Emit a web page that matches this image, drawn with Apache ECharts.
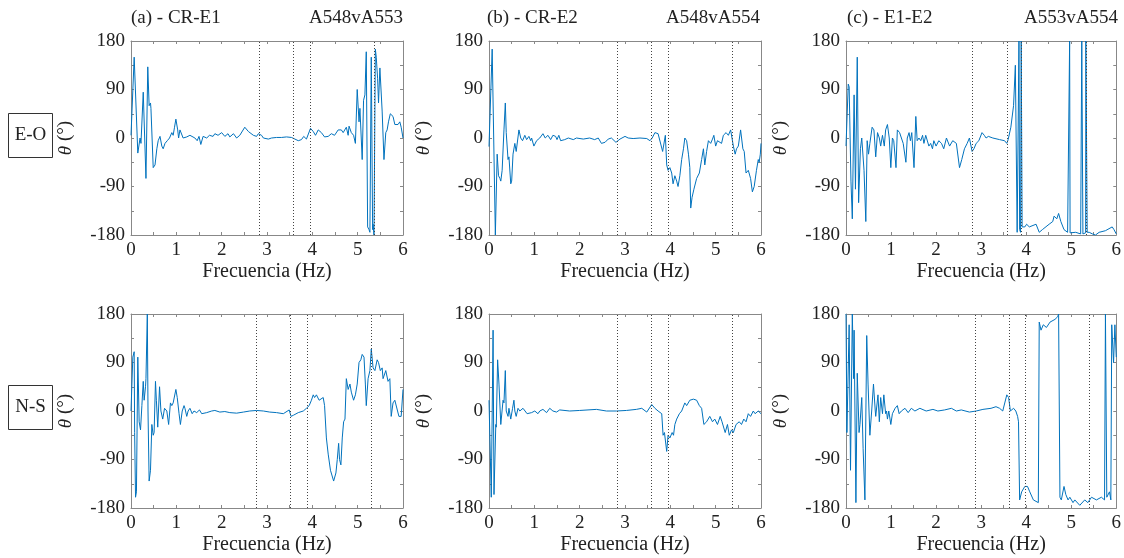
<!DOCTYPE html>
<html>
<head>
<meta charset="utf-8">
<script src="https://cdn.jsdelivr.net/npm/echarts@6/dist/echarts.min.js"></script>
<style>
html,body{margin:0;padding:0;background:#fff;}
#c{width:1124px;height:558px;}
</style>
</head>
<body>
<div id="c"></div>
<script>
// ---------- DATA ----------
const xTicks = [0, 1, 2, 3, 4, 5, 6];
const yTicks = [-180, -90, 0, 90, 180];
const titlesLeft = ['(a) - CR-E1', '(b) - CR-E2', '(c) - E1-E2'];
const titlesRight = ['A548vA553', 'A548vA554', 'A553vA554'];
const rowLabels = ['E-O', 'N-S'];

const eoA = [[0,5],[0.07,150],[0.10,150],[0.15,-28],[0.18,-25],[0.20,0],[0.22,-10],[0.27,85],[0.33,-75],[0.37,132],[0.40,60],[0.43,65],[0.44,55],[0.49,-55],[0.53,-50],[0.57,-20],[0.60,-5],[0.64,3],[0.68,-15],[0.71,-20],[0.75,-10],[0.80,-5],[0.85,0],[0.90,10],[0.93,5],[0.96,20],[0.99,35],[1.03,15],[1.05,0],[1.08,15],[1.11,15],[1.15,0],[1.23,2],[1.30,5],[1.41,0],[1.46,-5],[1.50,3],[1.54,-12],[1.59,3],[1.67,0],[1.73,5],[1.81,3],[1.85,8],[1.92,5],[2.00,10],[2.07,3],[2.14,8],[2.18,2],[2.26,8],[2.33,0],[2.40,5],[2.51,20],[2.59,12],[2.70,5],[2.77,3],[2.81,8],[2.88,5],[2.92,0],[3.03,-2],[3.10,0],[3.21,1],[3.32,1],[3.43,2],[3.54,1],[3.69,-5],[3.76,-3],[3.81,3],[3.87,-2],[3.91,0],[3.96,18],[4.02,12],[4.07,5],[4.13,15],[4.20,10],[4.27,2],[4.35,3],[4.42,8],[4.49,5],[4.57,15],[4.64,15],[4.68,10],[4.75,20],[4.79,5],[4.81,22],[4.86,10],[4.91,5],[4.95,-10],[4.99,90],[5.03,30],[5.05,55],[5.10,-40],[5.13,70],[5.16,80],[5.19,160],[5.22,-165],[5.25,-170],[5.27,-175],[5.30,150],[5.33,-170],[5.34,-160],[5.36,-180],[5.39,165],[5.41,150],[5.44,110],[5.46,65],[5.49,130],[5.54,50],[5.58,-40],[5.62,10],[5.65,15],[5.68,30],[5.72,45],[5.78,40],[5.82,25],[5.89,25],[5.93,30],[5.96,20],[6.0,0]];

const eoB = [[0,-16],[0.07,165],[0.14,-180],[0.18,-30],[0.21,-70],[0.24,-75],[0.26,-80],[0.29,-60],[0.33,15],[0.36,65],[0.38,10],[0.42,-40],[0.44,-35],[0.48,-85],[0.50,-80],[0.53,-30],[0.57,-10],[0.60,-25],[0.66,15],[0.70,0],[0.74,-5],[0.79,5],[0.83,-3],[0.88,3],[0.92,-5],[0.94,0],[0.99,-15],[1.05,-5],[1.12,0],[1.19,8],[1.24,0],[1.30,5],[1.36,-3],[1.41,5],[1.47,3],[1.50,-3],[1.54,5],[1.58,-5],[1.67,-3],[1.75,0],[1.86,-3],[1.93,0],[2.08,-2],[2.22,0],[2.33,-3],[2.41,0],[2.48,-10],[2.56,-8],[2.63,-2],[2.70,0],[2.80,-8],[2.89,-2],[3.00,3],[3.07,0],[3.18,-1],[3.33,0],[3.48,-1],[3.55,-5],[3.60,0],[3.66,10],[3.73,8],[3.77,5],[3.83,-25],[3.89,5],[3.92,-50],[3.95,-60],[3.99,-55],[4.03,-65],[4.06,-85],[4.10,-70],[4.14,-80],[4.17,-90],[4.21,-70],[4.25,-40],[4.29,-20],[4.32,0],[4.36,-5],[4.40,-30],[4.43,-55],[4.45,-130],[4.48,-110],[4.52,-95],[4.58,-75],[4.64,-65],[4.69,-40],[4.73,-20],[4.76,-50],[4.80,-25],[4.84,-5],[4.89,-10],[4.93,-2],[4.96,5],[5.00,-15],[5.04,-5],[5.08,-2],[5.13,-10],[5.17,5],[5.23,10],[5.28,5],[5.33,15],[5.39,-15],[5.43,-30],[5.46,-20],[5.50,-15],[5.55,15],[5.60,-20],[5.63,-25],[5.67,-65],[5.72,-60],[5.77,-75],[5.81,-100],[5.85,-90],[5.90,-60],[5.94,-40],[5.96,-45],[5.985,-30],[6.0,-10]];

const eoC = [[0,-15],[0.05,100],[0.07,95],[0.11,-80],[0.14,-150],[0.18,80],[0.21,-95],[0.25,150],[0.28,-120],[0.32,-20],[0.35,0],[0.40,-60],[0.44,-155],[0.47,-5],[0.50,-30],[0.53,-10],[0.58,20],[0.62,15],[0.66,-35],[0.70,10],[0.74,0],[0.77,-15],[0.81,5],[0.85,-15],[0.88,15],[0.92,25],[0.96,0],[0.995,-55],[1.03,0],[1.06,-5],[1.11,-55],[1.14,15],[1.19,10],[1.23,0],[1.27,-10],[1.33,-45],[1.36,0],[1.40,10],[1.43,-5],[1.46,10],[1.51,-55],[1.55,40],[1.58,-5],[1.62,0],[1.66,-5],[1.70,5],[1.73,-10],[1.77,5],[1.84,-15],[1.88,-10],[1.92,-20],[1.95,-5],[2.00,-15],[2.06,-5],[2.12,-10],[2.17,-20],[2.23,0],[2.30,-15],[2.37,-5],[2.45,-10],[2.52,-55],[2.57,-40],[2.63,-20],[2.69,-10],[2.74,0],[2.80,-25],[2.84,-20],[2.89,-10],[2.95,-5],[3.02,10],[3.07,5],[3.11,0],[3.16,3],[3.26,0],[3.41,-3],[3.52,-5],[3.57,-10],[3.60,-3],[3.66,20],[3.72,60],[3.76,135],[3.80,-175],[3.84,180],[3.855,-170],[3.875,-175],[3.89,180],[3.91,-165],[3.97,-165],[4.01,-160],[4.07,-165],[4.22,-160],[4.29,-175],[4.36,-170],[4.51,-160],[4.59,-155],[4.62,-145],[4.68,-150],[4.72,-140],[4.77,-155],[4.84,-170],[4.92,-175],[4.955,-175],[4.965,180],[4.975,-176],[5.10,-175],[5.21,-178],[5.23,-179],[5.235,180],[5.255,180],[5.26,-178],[5.285,-178],[5.32,-176],[5.325,180],[5.35,180],[5.355,-175],[5.40,-175],[5.47,-178],[5.54,-180],[5.62,-175],[5.76,-172],[5.91,-165],[5.95,-170],[6.0,-178]];

const nsA = [[0,0],[0.04,100],[0.07,110],[0.08,-40],[0.10,-160],[0.12,-150],[0.15,100],[0.18,-20],[0.21,-35],[0.24,10],[0.27,55],[0.29,20],[0.32,45],[0.33,60],[0.36,180],[0.375,0],[0.40,-130],[0.43,-110],[0.46,-25],[0.49,-45],[0.51,-40],[0.54,55],[0.56,20],[0.59,-30],[0.63,45],[0.66,0],[0.70,-15],[0.74,5],[0.79,0],[0.83,-25],[0.87,15],[0.90,10],[0.93,15],[0.99,40],[1.02,25],[1.06,-5],[1.09,-25],[1.13,0],[1.17,10],[1.19,5],[1.23,-10],[1.26,0],[1.30,5],[1.35,-5],[1.39,0],[1.45,-3],[1.51,2],[1.56,-5],[1.67,-3],[1.78,0],[1.85,1],[1.96,-2],[2.07,-1],[2.18,-3],[2.33,-4],[2.48,-2],[2.62,0],[2.77,1],[2.92,0],[3.06,-2],[3.21,-3],[3.36,-5],[3.49,2],[3.53,-10],[3.58,-8],[3.69,-3],[3.80,0],[3.87,5],[3.93,10],[3.98,20],[4.02,30],[4.05,25],[4.09,30],[4.15,20],[4.24,25],[4.27,10],[4.31,-50],[4.35,-80],[4.40,-110],[4.47,-130],[4.52,-115],[4.55,-90],[4.58,-60],[4.60,-90],[4.63,-100],[4.66,-50],[4.69,-20],[4.72,-15],[4.75,60],[4.79,40],[4.83,50],[4.86,35],[4.91,20],[4.95,30],[4.99,50],[5.03,90],[5.07,95],[5.10,105],[5.14,100],[5.17,50],[5.19,10],[5.23,60],[5.27,75],[5.30,115],[5.34,80],[5.38,75],[5.43,95],[5.46,90],[5.50,75],[5.54,80],[5.56,60],[5.62,75],[5.67,55],[5.71,60],[5.74,-10],[5.78,15],[5.82,20],[5.85,20],[5.91,-10],[5.96,-10],[6.0,40]];

const nsB = [[0,20],[0.05,-160],[0.09,150],[0.11,-155],[0.15,-25],[0.16,-30],[0.19,95],[0.22,50],[0.26,-25],[0.31,20],[0.33,15],[0.36,75],[0.38,0],[0.42,-10],[0.44,5],[0.48,-15],[0.52,5],[0.55,20],[0.57,0],[0.60,-10],[0.64,5],[0.68,0],[0.75,5],[0.84,-5],[0.94,-3],[1.01,0],[1.08,-5],[1.12,0],[1.19,3],[1.27,-3],[1.34,5],[1.41,0],[1.49,-2],[1.56,2],[1.78,0],[2.00,1],[2.37,3],[2.59,0],[2.81,0],[3.03,1],[3.25,3],[3.37,5],[3.48,-2],[3.59,12],[3.66,5],[3.73,0],[3.81,-5],[3.84,-45],[3.87,-40],[3.92,-75],[3.95,-45],[3.99,-50],[4.04,-40],[4.07,-45],[4.10,-25],[4.14,-15],[4.20,-5],[4.25,0],[4.32,15],[4.36,10],[4.43,20],[4.51,22],[4.58,20],[4.64,10],[4.69,5],[4.74,-25],[4.80,-20],[4.87,-10],[4.93,-20],[4.98,-15],[5.04,-25],[5.10,-10],[5.14,-20],[5.21,-40],[5.26,-25],[5.30,-45],[5.35,-35],[5.39,-40],[5.45,-25],[5.52,-20],[5.57,-25],[5.62,-15],[5.67,-20],[5.72,-5],[5.77,-10],[5.83,0],[5.87,-5],[5.94,0],[6.0,-5]];

const nsC = [[0,180],[0.02,-40],[0.07,160],[0.10,-110],[0.14,180],[0.17,60],[0.18,150],[0.22,-170],[0.25,70],[0.29,-40],[0.31,-25],[0.35,25],[0.38,-70],[0.42,-165],[0.46,140],[0.49,50],[0.53,-45],[0.57,0],[0.61,50],[0.65,0],[0.66,-10],[0.71,30],[0.74,-20],[0.77,25],[0.81,-5],[0.84,30],[0.88,-5],[0.90,0],[0.92,-15],[0.95,0],[0.995,-25],[1.03,-5],[1.09,5],[1.14,10],[1.18,-5],[1.23,0],[1.31,5],[1.38,-3],[1.45,5],[1.53,0],[1.64,5],[1.78,0],[1.93,3],[2.04,0],[2.19,2],[2.34,5],[2.45,0],[2.56,2],[2.74,-2],[2.89,0],[3.04,3],[3.22,5],[3.33,8],[3.41,5],[3.48,0],[3.57,30],[3.61,25],[3.65,0],[3.72,5],[3.77,0],[3.81,-10],[3.83,-20],[3.855,-165],[3.90,-150],[3.97,-140],[4.03,-140],[4.08,-150],[4.16,-165],[4.27,-170],[4.29,165],[4.33,150],[4.38,160],[4.45,155],[4.53,165],[4.64,170],[4.70,175],[4.72,180],[4.75,-160],[4.78,-165],[4.84,-140],[4.88,-155],[4.93,-165],[4.97,-160],[5.04,-170],[5.08,-165],[5.19,-175],[5.30,-165],[5.37,-170],[5.45,-160],[5.56,-165],[5.67,-160],[5.74,-165],[5.76,180],[5.79,-160],[5.85,-150],[5.88,-165],[5.90,160],[5.94,90],[5.97,160],[6.0,100]];

const refEoA = [2.84, 3.59, 3.96, 5.37];
const refEoB = [2.83, 3.59, 3.95, 5.37];
const refEoC = [2.80, 3.57, 3.90, 5.34];
const refNsA = [2.77, 3.52, 3.88, 5.30];
const refNsB = [2.83, 3.59, 3.95, 5.37];
const refNsC = [2.87, 3.62, 3.97, 5.40];

const panelData = [eoA, eoB, eoC, nsA, nsB, nsC];
const panelRefs = [refEoA, refEoB, refEoC, refNsA, refNsB, refNsC];

// ---------- LAYOUT / STYLE ----------
const FONT = '"Liberation Serif", "Times New Roman", serif';
const FS = 19;
const TXT = '#222';
const AX = '#888';
const LINE = '#0072BD';
const lefts = [131, 489, 846];
const widths = [272, 272, 271];
const tops = [41, 314];
const H = 194;

const grids = [], xAxes = [], yAxes = [], series = [];
const mirrorX = [], mirrorY = [];
for (let r = 0; r < 2; r++) {
  for (let c = 0; c < 3; c++) {
    const i = r * 3 + c;
    grids.push({ left: lefts[c], top: tops[r], width: widths[c], height: H, containLabel: false });
    const tickStyle = { show: true, inside: true, length: 3, lineStyle: { color: AX, width: 1 } };
    const lineStyle = { show: true, onZero: false, lineStyle: { color: AX, width: 1 } };
    xAxes.push({
      gridIndex: i, type: 'value', position: 'bottom', min: 0, max: 6, interval: 0.5,
      axisLine: lineStyle, axisTick: tickStyle, splitLine: { show: false },
      axisLabel: { formatter: v => xTicks.includes(v) ? String(v) : '', fontFamily: FONT, fontSize: FS, color: TXT, margin: 6 },
      name: 'Frecuencia (Hz)', nameLocation: 'middle', nameGap: 27,
      nameTextStyle: { fontFamily: FONT, fontSize: FS + 1, color: TXT }
    });
    yAxes.push({
      gridIndex: i, type: 'value', position: 'left', min: -180, max: 180, interval: 45,
      axisLine: lineStyle, axisTick: tickStyle, splitLine: { show: false },
      axisLabel: { formatter: v => yTicks.includes(v) ? String(v) : '', fontFamily: FONT, fontSize: FS, color: TXT, margin: 6 },
      name: '{i|θ} (°)', nameLocation: 'middle', nameGap: 56, nameRotate: 90,
      nameTextStyle: { fontFamily: FONT, fontSize: FS, color: TXT, rich: { i: { fontFamily: FONT, fontSize: FS, fontStyle: 'italic', color: TXT } } }
    });
    mirrorX.push({
      gridIndex: i, type: 'value', position: 'top', min: 0, max: 6, interval: 0.5,
      axisLine: lineStyle, axisTick: tickStyle, axisLabel: { show: false }, splitLine: { show: false }
    });
    mirrorY.push({
      gridIndex: i, type: 'value', position: 'right', min: -180, max: 180, interval: 45,
      axisLine: lineStyle, axisTick: tickStyle, axisLabel: { show: false }, splitLine: { show: false }
    });
    series.push({
      type: 'line', xAxisIndex: i, yAxisIndex: i, data: panelData[i],
      symbol: 'none', showSymbol: false, clip: true,
      lineStyle: { color: LINE, width: 1 },
      markLine: {
        silent: true, symbol: ['none', 'none'], label: { show: false },
        lineStyle: { type: [1, 2], color: '#444', width: 1 },
        data: panelRefs[i].map(v => ({ xAxis: v }))
      }
    });
  }
}

const graphic = [];
const titleLeftX = [131, 487, 847];
const titleRightX = [403, 760, 1118];
for (let c = 0; c < 3; c++) {
  graphic.push({ type: 'text', x: titleLeftX[c], y: 18, style: { text: titlesLeft[c], font: FS + 'px ' + FONT, fill: TXT, align: 'left', verticalAlign: 'middle' } });
  graphic.push({ type: 'text', x: titleRightX[c], y: 18, style: { text: titlesRight[c], font: FS + 'px ' + FONT, fill: TXT, align: 'right', verticalAlign: 'middle' } });
}
const boxY = [113, 385];
for (let r = 0; r < 2; r++) {
  graphic.push({ type: 'rect', shape: { x: 8.5, y: boxY[r] + 0.5, width: 44, height: 44 }, style: { fill: '#fff', stroke: '#333', lineWidth: 1 } });
  graphic.push({ type: 'text', x: 30.5, y: boxY[r] + 22.5, style: { text: rowLabels[r], font: FS + 'px ' + FONT, fill: TXT, align: 'center', verticalAlign: 'middle' } });
}

const chart = echarts.init(document.getElementById('c'), null, { renderer: 'canvas' });
chart.setOption({
  animation: false,
  backgroundColor: '#fff',
  grid: grids,
  xAxis: xAxes.concat(mirrorX),
  yAxis: yAxes.concat(mirrorY),
  series: series,
  graphic: graphic
});
</script>
</body>
</html>
